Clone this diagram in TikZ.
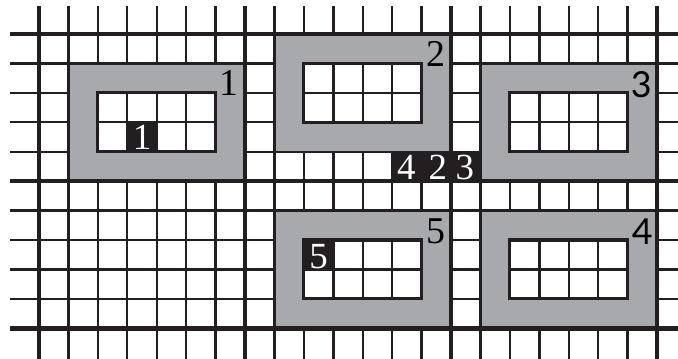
\documentclass[tikz,border=0pt]{standalone}
\usepackage{fontspec}
\setmainfont{Liberation Serif}
\newfontfamily\gsans{Lato}
\definecolor{ink}{HTML}{231F20}
\definecolor{plate}{HTML}{A7A9AC}
\begin{document}
\begin{tikzpicture}[x=29.43bp,y=-29.43bp,
  gthin/.style={line width=2.4bp,draw=ink},
  gthick/.style={line width=4.6bp,draw=ink},
  frame/.style={line width=3.2bp,draw=ink},
  platefill/.style={fill=plate},
  blk/.style={fill=ink},
  num/.style={inner sep=0pt,font=\fontsize{38}{38}\selectfont},
  snum/.style={inner sep=0pt,font=\gsans\fontsize{36}{36}\selectfont},
  wnum/.style={inner sep=0pt,text=white,font=\fontsize{37}{37}\selectfont}]
\useasboundingbox[fill=white] (-1.325,-1.155) rectangle (21.712,11.009);
% grid
\foreach \r in {1,2,3,4,6,7,8,9} \draw[gthin] (-0.985,\r) -- (22,\r);
\foreach \c in {1,...,6,8,9,...,13,15,16,...,20} \draw[gthin] (\c,-0.95) -- (\c,11.5);
\foreach \r in {0,5,10} \draw[gthick] (-0.985,\r) -- (22,\r);
\foreach \c in {0,7,14,21} \draw[gthick] (\c,-0.95) -- (\c,11.5);
% t = half thin, T = half thick (grid units)
\def\t{0.041}\def\T{0.078}
% plates
\fill[platefill] (1+\t,1+\t) rectangle (7-\T,5-\T);
\fill[platefill] (8+\t,0+\T) rectangle (14-\T,4-\t);
\fill[platefill] (15+\t,1+\t) rectangle (21-\T,5-\T);
\fill[platefill] (8+\t,6+\t) rectangle (14-\T,10-\T);
\fill[platefill] (15+\t,6+\t) rectangle (21-\T,10-\T);
% inner windows
\foreach \c/\r in {2/2,9/1,16/2,9/7,16/7}{
  \fill[white] (\c,\r) rectangle (\c+4,\r+2);
  \foreach \k in {1,2,3} \draw[gthin] (\c+\k,\r) -- (\c+\k,\r+2);
  \draw[gthin] (\c,\r+1) -- (\c+4,\r+1);
}
% black cells
\fill[blk] (3,3) rectangle (4,4);
\fill[blk] (9,7) rectangle (10,8);
\fill[blk] (12,4) rectangle (15,5);
% window frames
\foreach \c/\r in {2/2,9/1,16/2,9/7,16/7}
  \draw[frame] (\c,\r) rectangle (\c+4,\r+2);
% plate labels
\node[num] (p1) at (6.46,1.66) {1};
\node[num] (p2) at (13.49,0.68) {2};
\node[snum] (p3) at (20.46,1.73) {3};
\node[num] (p5) at (13.5,6.69) {5};
\node[snum] (p4) at (20.5,6.73) {4};
% white numbers
\node[wnum] (w1) at (3.5,3.52) {1};
\node[wnum] (w5) at (9.5,7.58) {5};
\node[wnum] (w4) at (12.48,4.52) {4};
\node[wnum] (w2) at (13.55,4.52) {2};
\node[wnum] (w3) at (14.47,4.52) {3};
\end{tikzpicture}
\end{document}
